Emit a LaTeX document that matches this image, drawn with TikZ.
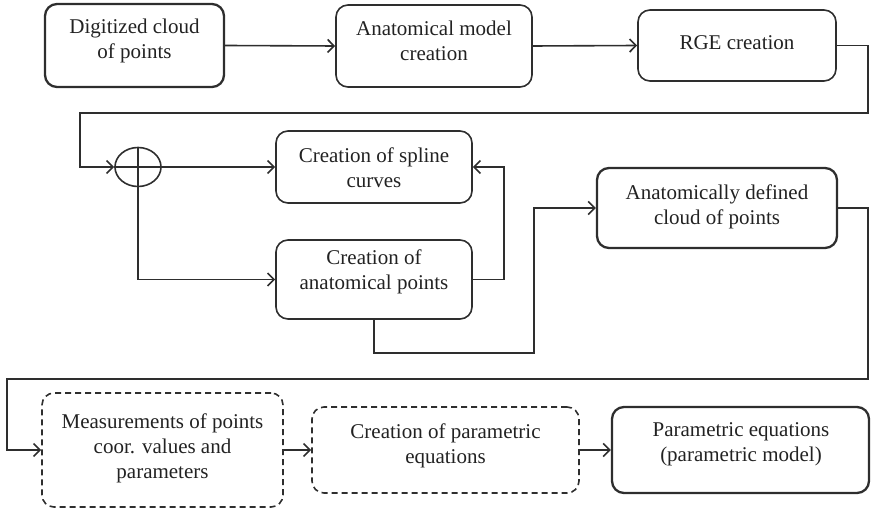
\documentclass[tikz,border=0pt]{standalone}
\usepackage{fontspec}
\setmainfont{Liberation Serif}
\usetikzlibrary{arrows.meta,shapes.geometric}
\definecolor{ink}{HTML}{2E2E2E}
\definecolor{inktext}{HTML}{222222}
\begin{document}
\begin{tikzpicture}[x=1pt,y=-1pt,
  box/.style={draw=ink,rounded corners=12pt,line width=1.6pt,inner sep=0pt},
  heavy/.style={box,line width=2.3pt},
  dashbox/.style={box,dash pattern=on 6pt off 4pt},
  txt/.style={align=center,text=inktext,font=\fontsize{21}{25}\selectfont,inner sep=0pt},
  wire/.style={draw=ink,line width=1.6pt},
  link/.style={wire,-{Straight Barb[length=6.5pt,width=13pt]}}]
\useasboundingbox (0,0) rectangle (871,510);

% process boxes
\node[heavy,minimum width=179pt,minimum height=83pt] (b1) at (134.5,45.5) {};
\node[box,minimum width=196pt,minimum height=82pt] (b2) at (434,46) {};
\node[box,minimum width=198pt,minimum height=71pt] (b3) at (737,45.5) {};
\node[box,minimum width=196pt,minimum height=72pt] (spline) at (374,167) {};
\node[box,minimum width=196pt,minimum height=79pt] (anat) at (374,279.5) {};
\node[heavy,minimum width=240pt,minimum height=80pt] (adc) at (717,208) {};
\node[dashbox,minimum width=241pt,minimum height=114pt] (meas) at (162.5,450) {};
\node[dashbox,minimum width=267pt,minimum height=86pt] (pc) at (445.5,450) {};
\node[heavy,minimum width=257pt,minimum height=86pt] (pe) at (740.5,450) {};

% box labels
\node[txt] (t1) at (134.5,40.5) {Digitized cloud\\of points};
\node[txt] (t2) at (434,40.5) {Anatomical model\\creation};
\node[txt] (t3) at (737,43) {RGE creation};
\node[txt] (t4) at (374,168) {Creation of spline\\curves};
\node[txt] (t5) at (374,272) {Creation of\\anatomical points};
\node[txt] (t6) at (717,206.5) {Anatomically defined\\cloud of points};
\node[txt] (t7) at (162.5,448) {Measurements of points\\coor. values and\\parameters};
\node[txt] (t8) at (445.5,446) {Creation of parametric\\equations};
\node[txt] (t9) at (741,444.5) {Parametric equations\\(parametric model)};

% summing junction
\node[draw=ink,ellipse,line width=1.6pt,minimum width=46pt,minimum height=39pt,inner sep=0pt] (sum) at (138,167) {};
\draw[wire] (sum.west) -- (sum.east);
\draw[wire] (sum.north) -- (sum.south);

% connectors
\draw[link] (b1.east) -- (b2.west);
\draw[link] (b2.east) -- (b3.west);
\draw[link] (b3.east) -| (868,113) -- (80,113) |- (sum.west);
\draw[link] (sum.east) -- (spline.west);
\draw[link] (sum.south) |- (anat.west);
\draw[link] (anat.east) -- ++(31,0) |- (spline.east);
\draw[link] (anat.south) |- (534,353) |- (adc.west);
\draw[link] (adc.east) -| (868,379) -- (7,379) |- (meas.west);
\draw[link] (meas.east) -- (pc.west);
\draw[link] (pc.east) -- (pe.west);
\end{tikzpicture}
\end{document}
